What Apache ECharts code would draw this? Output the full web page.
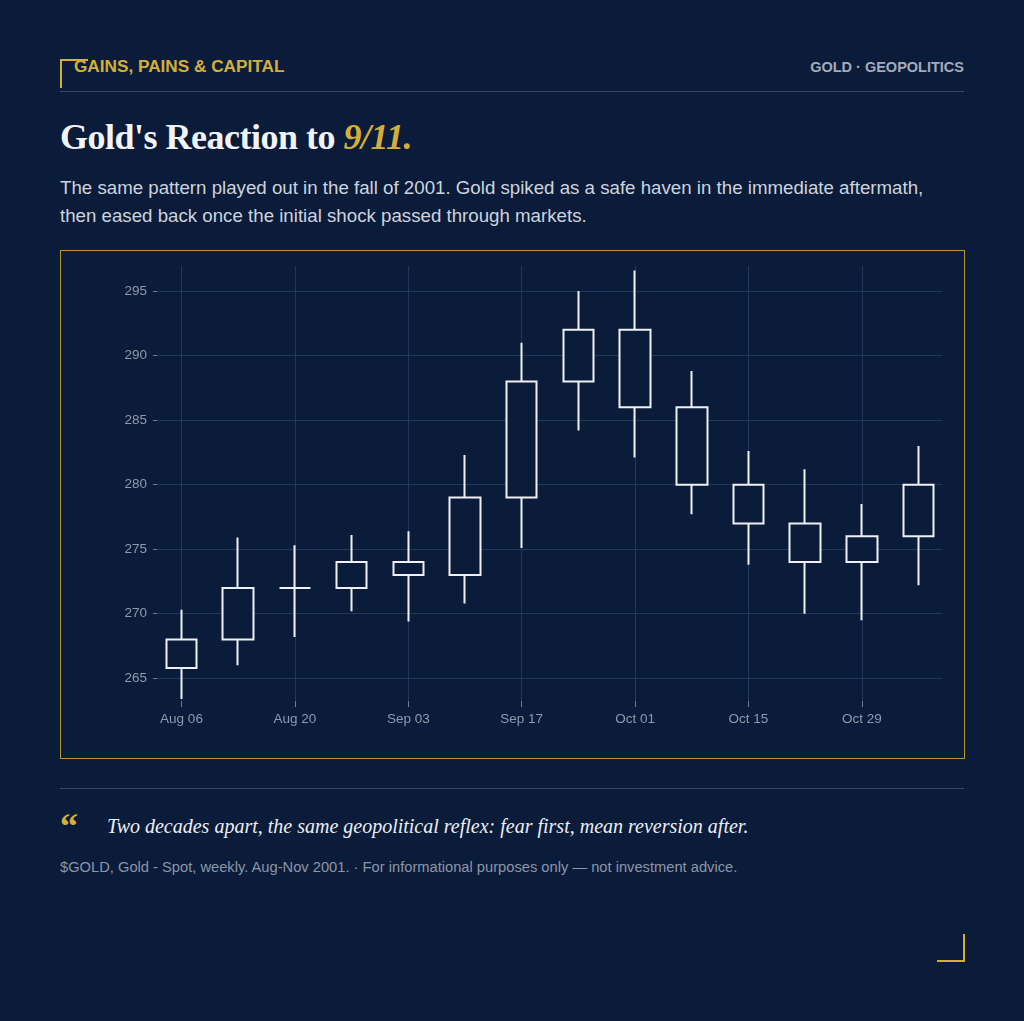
<!DOCTYPE html>
<html>
<head>
<meta charset="utf-8">
<title>Gold's Reaction to 9/11</title>
<script src="https://cdn.jsdelivr.net/npm/echarts@6.0.0/dist/echarts.min.js"></script>
<style>
  html, body { margin: 0; padding: 0; }
  body {
    width: 1024px; height: 1021px; position: relative; overflow: hidden;
    background: #0b1c3a; font-family: "Liberation Sans", Arial, sans-serif;
  }
  .abs { position: absolute; }
  .corner-tl { left: 60px; top: 59px; width: 26px; height: 27px; border-left: 2px solid #d4af37; border-top: 2px solid #d4af37; }
  .corner-br { left: 937px; top: 934px; width: 26px; height: 26px; border-right: 2px solid #d4af37; border-bottom: 2px solid #d4af37; }
  .brand { left: 74px; top: 55px; font-size: 17.2px; font-weight: bold; color: #d4af37; line-height: 22px; }
  .tag { right: 60px; top: 57px; font-size: 14.5px; font-weight: bold; color: #a3abbb; line-height: 20px; }
  .rule { left: 60px; width: 904px; height: 1px; background: #34476a; }
  .title { left: 60px; top: 115px; font-family: "Liberation Serif", "Times New Roman", serif; font-weight: bold;
           font-size: 36px; letter-spacing: -0.5px; color: #f2f3f6; line-height: 44px; white-space: nowrap; }
  .title em { color: #d4af37; font-style: italic; }
  .sub { left: 60px; top: 174px; width: 904px; font-size: 18.7px; line-height: 27.5px; color: #cdd3de; }
  #chart { left: 60px; top: 250px; width: 905px; height: 509px; box-sizing: border-box; border: 1px solid #b8962e; }
  .qmark { left: 60px; top: 806px; font-family: "Liberation Serif", serif; font-weight: bold; font-size: 36px; color: #d4af37; line-height: 40px; }
  .quote { left: 107px; top: 812px; font-family: "Liberation Serif", serif; font-style: italic; font-size: 20px; color: #eceef2; line-height: 28px; white-space: nowrap; }
  .note { left: 60px; top: 857px; font-size: 14.7px; color: #8c95a8; line-height: 20px; white-space: nowrap; }
</style>
</head>
<body>
<div class="abs corner-tl"></div>
<div class="abs brand">GAINS, PAINS &amp; CAPITAL</div>
<div class="abs tag">GOLD · GEOPOLITICS</div>
<div class="abs rule" style="top:91px"></div>
<div class="abs title">Gold's Reaction to <em>9/11.</em></div>
<div class="abs sub">The same pattern played out in the fall of 2001. Gold spiked as a safe haven in the immediate aftermath, then eased back once the initial shock passed through markets.</div>
<div class="abs" id="chart"></div>
<div class="abs rule" style="top:788px"></div>
<div class="abs qmark">“</div>
<div class="abs quote">Two decades apart, the same geopolitical reflex: fear first, mean reversion after.</div>
<div class="abs note">$GOLD, Gold - Spot, weekly. Aug-Nov 2001. · For informational purposes only — not investment advice.</div>
<div class="abs corner-br"></div>

<script>
// weekly candles, Aug-Nov 2001
var weeks = ['Aug 06', 'Aug 13', 'Aug 20', 'Aug 27', 'Sep 03', 'Sep 10', 'Sep 17',
             'Sep 24', 'Oct 01', 'Oct 08', 'Oct 15', 'Oct 22', 'Oct 29', 'Nov 05'];
var opens  = [265.8, 268.0, 272.0, 272.0, 274.0, 273.0, 279.0, 288.0, 292.0, 286.0, 280.0, 277.0, 274.0, 276.0];
var closes = [268.0, 272.0, 272.0, 274.0, 273.0, 279.0, 288.0, 292.0, 286.0, 280.0, 277.0, 274.0, 276.0, 280.0];
var lows   = [263.4, 266.0, 268.2, 270.2, 269.4, 270.8, 275.1, 284.2, 282.1, 277.7, 273.8, 270.0, 269.5, 272.2];
var highs  = [270.3, 275.9, 275.3, 276.1, 276.4, 282.3, 291.0, 295.0, 296.6, 288.8, 282.6, 281.2, 278.5, 283.0];

// labelled weeks (every other one) and price ticks
var xTicks = [0, 2, 4, 6, 8, 10, 12];
var yTicks = [265, 270, 275, 280, 285, 290, 295];

var bg = '#0b1c3a';
var gridColor = '#20385d';
var labelColor = '#8f99ad';

var candles = weeks.map(function (w, i) {
  return [i, opens[i], closes[i], lows[i], highs[i]];
});

var myChart = echarts.init(document.getElementById('chart'));
myChart.setOption({
  backgroundColor: 'transparent',
  animation: false,
  grid: { left: 96, right: 22, top: 15, bottom: 57 },
  xAxis: {
    type: 'value',
    min: -0.432,
    max: 13.413,
    axisLine: { show: false, onZero: false },
    axisTick: { show: true, customValues: xTicks, length: 6, lineStyle: { color: '#6f7b93' } },
    axisLabel: {
      customValues: xTicks,
      margin: 11,
      color: labelColor,
      fontSize: 13.5,
      fontFamily: 'Liberation Sans',
      formatter: function (v) { return weeks[Math.round(v)] || ''; }
    },
    splitLine: { show: true, lineStyle: { color: gridColor, width: 1 } }
  },
  yAxis: {
    type: 'value',
    min: 263.24,
    max: 296.94,
    axisLine: { show: false, onZero: false },
    axisTick: { show: true, customValues: yTicks, length: 4, lineStyle: { color: '#6f7b93' } },
    axisLabel: {
      customValues: yTicks,
      margin: 10,
      color: labelColor,
      fontSize: 13.5,
      fontFamily: 'Liberation Sans'
    },
    splitLine: { show: true, lineStyle: { color: gridColor, width: 1 } }
  },
  series: [{
    type: 'candlestick',
    data: candles,
    encode: { x: 0, y: [1, 2, 3, 4] },
    barWidth: 31,
    itemStyle: {
      color: bg,
      color0: bg,
      borderColor: '#eef0f4',
      borderColor0: '#eef0f4',
      borderColorDoji: '#eef0f4',
      borderWidth: 2
    }
  }]
});
</script>
</body>
</html>
